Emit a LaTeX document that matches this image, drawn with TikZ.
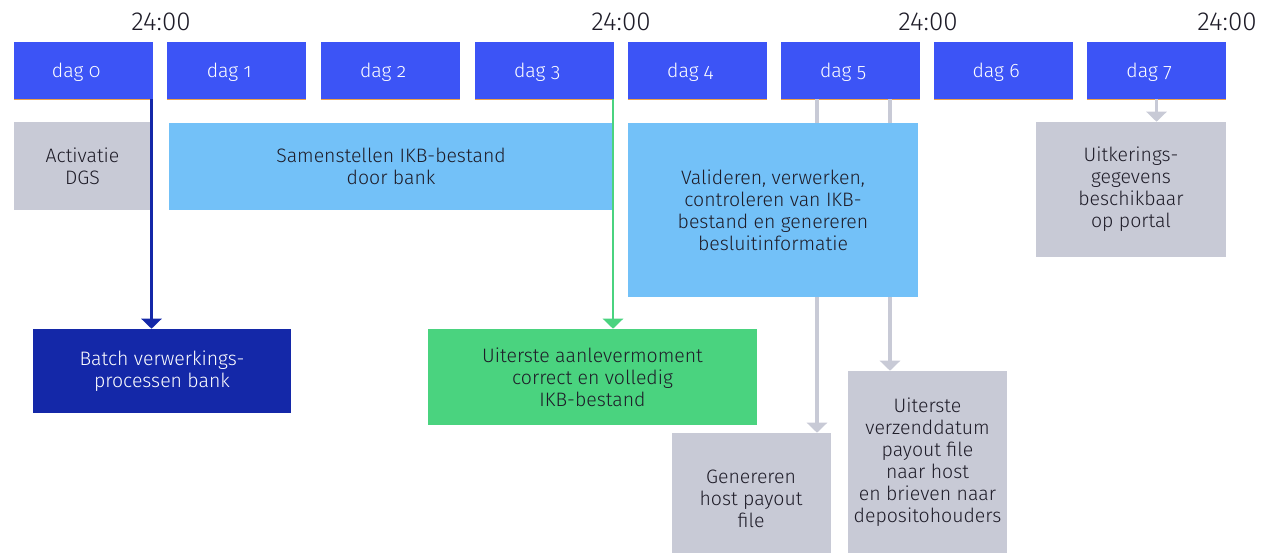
\documentclass[tikz,border=0pt]{standalone}
\usepackage{fontspec}
\setmainfont{Fira Sans}[UprightFont={* Light}, Numbers=OldStyle]
\newfontfamily\liningfont{Fira Sans}[UprightFont={* Light}]
\usetikzlibrary{arrows.meta}
\definecolor{dayblue}{RGB}{60,84,246}
\definecolor{greybox}{RGB}{200,202,214}
\definecolor{lightblue}{RGB}{115,193,248}
\definecolor{darkblue}{RGB}{20,40,168}
\definecolor{greenbox}{RGB}{74,211,127}
\definecolor{txt}{RGB}{30,28,40}
\definecolor{orangeline}{RGB}{240,160,70}
\tikzset{
  box/.style={rectangle, inner sep=0pt, align=center, text=txt,
    font=\fontsize{14.6}{16.5}\selectfont},
  daybox/.style={box, fill=dayblue, text=white, minimum width=104.25pt, minimum height=42.75pt},
  daytext/.style={text=white, inner sep=0pt, xshift=-5.5pt, yshift=-1.5pt, font=\fontsize{14.6}{16.5}\selectfont},
  timelbl/.style={inner sep=0pt, text=txt, font=\liningfont\fontsize{19.5}{22}\selectfont},
  conn/.style={line width=2pt, -{Triangle[width=15pt,length=7.5pt]}},
}
\begin{document}
\begin{tikzpicture}[x=0.75pt,y=-0.75pt]
\useasboundingbox (0,0) rectangle (1263,553);
\clip (0,0) rectangle (1263,553);
% day boxes
\foreach \i/\x in {0/83.5,1/236.5,2/390.5,3/544.5,4/697.5,5/850.5,6/1003.5,7/1156.5}{
  \node[daybox, label={[daytext]center:dag \i}] (d\i) at (\x,70.5) {};
  \draw[orangeline, line width=0.5pt] (d\i.south west) -- (d\i.south east);
}
% time labels
\node[timelbl] (t1) at (161,22) {24:00};
\node[timelbl] (t2) at (621,22) {24:00};
\node[timelbl] (t3) at (928,22) {24:00};
\node[timelbl] (t4) at (1227,22) {24:00};
% anchor coordinates on the day boxes
\coordinate (s0) at (151.5,99);
\coordinate (s3) at (613,99);
\coordinate (s5a) at (817,99);
\coordinate (s5b) at (890,99);
% grey connectors (behind the validation box)
\node[box, fill=greybox, minimum width=119.25pt, minimum height=99pt] (gen) at (751,499) {Genereren\\host payout\\file};
\node[box, fill=greybox, minimum width=119.25pt, minimum height=136.5pt] (verz) at (927.5,462) {Uiterste\\verzenddatum\\payout file\\naar host\\en brieven naar\\depositohouders};
\draw[conn, greybox, line width=2.3pt] (s5a) -- (s5a |- gen.north);
\draw[conn, greybox, line width=2.3pt] (s5b) -- (s5b |- verz.north);
% boxes
\node[box, fill=greybox, minimum width=102.75pt, minimum height=66pt] (act) at (82.5,166) {Activatie\\DGS};
\node[box, fill=lightblue, minimum width=333pt, minimum height=65.25pt] (sam) at (391,166.5) {Samenstellen IKB-bestand\\door bank};
\node[box, fill=lightblue, minimum width=217.5pt, minimum height=130.5pt] (val) at (773,210) {Valideren, verwerken,\\controleren van IKB-\\bestand en genereren\\besluitinformatie};
\node[box, fill=greybox, minimum width=142.5pt, minimum height=101.25pt] (port) at (1131,189.5) {Uitkerings-\\gegevens\\beschikbaar\\op portal};
\node[box, fill=darkblue, text=white, minimum width=193.5pt, minimum height=63pt] (batch) at (162,371) {Batch verwerkings-\\processen bank};
\node[box, fill=greenbox, minimum width=246.75pt, minimum height=72pt] (uit) at (592.5,377) {Uiterste aanlevermoment\\correct en volledig\\IKB-bestand};
% connectors
\draw[conn, darkblue] (s0) -- (s0 |- batch.north);
\draw[conn, greenbox] (s3) -- (s3 |- uit.north);
\draw[conn, greybox, line width=2.3pt] (d7.south) -- (d7.south |- port.north);
\end{tikzpicture}
\end{document}
